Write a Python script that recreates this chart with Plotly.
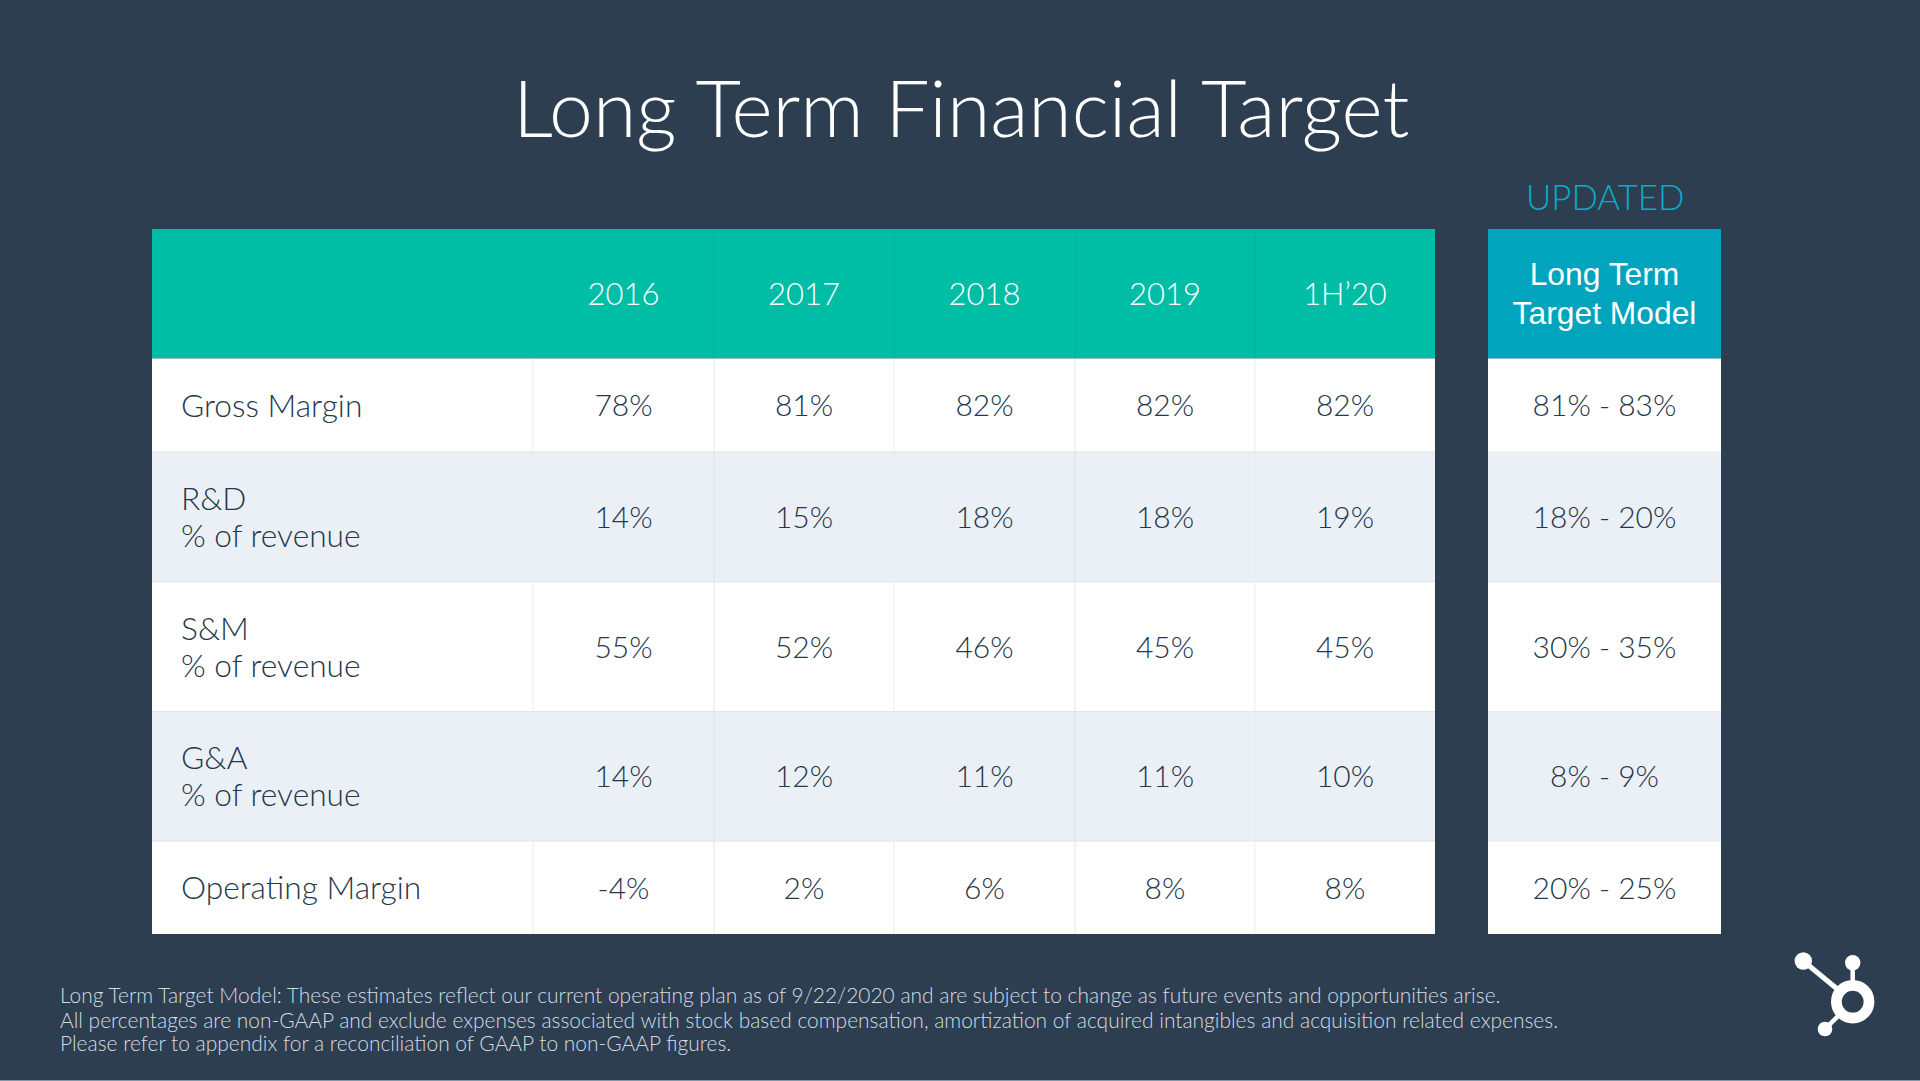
import plotly.graph_objects as go

# ---------- data ----------
title = "Long Term Financial Target"
badge = "UPDATED"
periods = ["2016", "2017", "2018", "2019", "1H’20"]
target_header = ["Long Term", "Target Model"]
metrics = [["Gross Margin"], ["R&D", "% of revenue"], ["S&M", "% of revenue"], ["G&A", "% of revenue"], ["Operating Margin"]]
gross_margin = ["78%", "81%", "82%", "82%", "82%"]
rnd = ["14%", "15%", "18%", "18%", "19%"]
snm = ["55%", "52%", "46%", "45%", "45%"]
gna = ["14%", "12%", "11%", "11%", "10%"]
op_margin = ["-4%", "2%", "6%", "8%", "8%"]
targets = ["81% - 83%", "18% - 20%", "30% - 35%", "8% - 9%", "20% - 25%"]
notes = ["Long Term Target Model: These estimates reflect our current operating plan as of 9/22/2020 and are subject to change as future events and opportunities arise.",
         "All percentages are non-GAAP and exclude expenses associated with stock based compensation, amortization of acquired intangibles and acquisition related expenses.",
         "Please refer to appendix for a reconciliation of GAAP to non-GAAP figures."]

rows = [gross_margin, rnd, snm, gna, op_margin]

# ---------- layout geometry ----------
W, H = 1920, 1081
col_edges = [152, 533, 714, 894, 1075, 1255, 1435]
tgt_edges = [1488, 1721]
row_edges = [229, 358.5, 452, 582, 711.5, 841, 934]
text_dy = 3.5          # optical offset of text in its cell
label_gap = 36.7       # distance between the two lines of a row label
head_gap = 39
note_ys = [994.5, 1019, 1042.5]

BG = "#2D3E50"; TEAL = "#00BDA5"; BLUE = "#00A4BD"; BAND = "#EAF0F6"; INK = "#24374B"
FONT = "Lato"

shapes = []
def rect(x0, x1, y0, y1, color):
    shapes.append(dict(type="rect", xref="x", yref="y", x0=x0, x1=x1, y0=y0, y1=y1,
                       fillcolor=color, line_width=0, layer="below"))
def seg(x0, y0, x1, y1, color, w=1):
    shapes.append(dict(type="line", xref="x", yref="y", x0=x0, x1=x1, y0=y0, y1=y1,
                       line=dict(color=color, width=w), layer="below"))
def disc(cx, cy, r, color, line=None, lw=0):
    shapes.append(dict(type="circle", xref="x", yref="y", x0=cx-r, x1=cx+r, y0=cy-r, y1=cy+r,
                       fillcolor=color, line=dict(color=line or color, width=lw), layer="below"))

# header bands
rect(col_edges[0], col_edges[-1], row_edges[0], row_edges[1], TEAL)
rect(tgt_edges[0], tgt_edges[1], row_edges[0], row_edges[1], BLUE)
# body rows
for i in range(len(metrics)):
    c = "#FFFFFF" if i % 2 == 0 else BAND
    rect(col_edges[0], col_edges[-1], row_edges[i+1], row_edges[i+2], c)
    rect(tgt_edges[0], tgt_edges[1], row_edges[i+1], row_edges[i+2], c)
# rules
for y in row_edges[2:-1]:
    seg(col_edges[0], y, col_edges[-1], y, "#DFE4EA")
    seg(tgt_edges[0], y, tgt_edges[1], y, "#E6EAEF")
for j, x in enumerate(col_edges[1:-1]):
    seg(x, row_edges[1], x, row_edges[-1], "#EAEDF0" if j % 2 == 0 else "#DFE3E8")
    if j > 0:
        seg(x, row_edges[0], x, row_edges[1], "#00B29B")
# bottom hairline of the slide
seg(0, 1080.5, W, 1080.5, "#8796A5", 1)

# logo
ring = (1852.7, 1001.7)
big = (1803.3, 961)
top = (1852.7, 962.7)
low = (1825, 1029)
seg(big[0], big[1], ring[0], ring[1], "white", 5)
seg(top[0], top[1], ring[0], ring[1], "white", 4.5)
seg(low[0], low[1], ring[0], ring[1], "white", 4.5)
disc(big[0], big[1], 8.7, "white")
disc(top[0], top[1], 7.7, "white")
disc(low[0], low[1], 7.3, "white")
disc(ring[0], ring[1], 16.3, BG, "white", 10.8)

fig = go.Figure()

centers_x = [(a + b) / 2 for a, b in zip(col_edges[1:], col_edges[2:])]
centers_y = [(a + b) / 2 + text_dy for a, b in zip(row_edges[1:], row_edges[2:])]
tgt_x = sum(tgt_edges) / 2
head_y = (row_edges[0] + row_edges[1]) / 2 + text_dy

# header text
fig.add_trace(go.Scatter(x=centers_x, y=[head_y]*5, text=periods, mode="text", textposition="middle center",
                         textfont=dict(family=FONT, size=31, color="white", weight=300), hoverinfo="skip"))
fig.add_trace(go.Scatter(x=[tgt_x]*2, y=[head_y - head_gap/2 - 0.6, head_y + head_gap/2 - 0.6], text=target_header,
                         mode="text", textposition="middle center",
                         textfont=dict(family="Liberation Sans", size=31.8, color="white"), hoverinfo="skip"))
# row labels
lab_y, lab_t = [], []
for cy, lines in zip(centers_y, metrics):
    for k, line in enumerate(lines):
        lab_y.append(cy + (k - (len(lines) - 1) / 2) * label_gap)
        lab_t.append(line)
fig.add_trace(go.Scatter(x=[col_edges[0] + 29]*len(lab_y), y=lab_y, text=lab_t, mode="text", textposition="middle right",
                         textfont=dict(family=FONT, size=31.7, color=INK, weight=300), hoverinfo="skip"))
# values
for j, cx in enumerate(centers_x):
    fig.add_trace(go.Scatter(x=[cx]*5, y=centers_y, text=[r[j] for r in rows], mode="text",
                             textposition="middle center",
                             textfont=dict(family=FONT, size=30, color=INK, weight=300), hoverinfo="skip"))
fig.add_trace(go.Scatter(x=[tgt_x]*5, y=centers_y, text=targets, mode="text", textposition="middle center",
                         textfont=dict(family=FONT, size=30, color=INK, weight=300), hoverinfo="skip"))

ann = [
    dict(x=961, y=106, text=title, showarrow=False, xanchor="center", yanchor="middle",
         font=dict(family=FONT, size=78.8, color="white", weight=300)),
    dict(x=tgt_x, y=196, text=badge, showarrow=False, xanchor="center", yanchor="middle",
         font=dict(family=FONT, size=34.8, color="#08ACC6", weight=300)),
]
for y, line in zip(note_ys, notes):
    ann.append(dict(x=58, y=y, text=line, showarrow=False, xanchor="left", yanchor="middle", align="left",
                    font=dict(family=FONT, size=20.95, color="#D3DCE6", weight=300)))
for a in ann:
    a.update(xref="x", yref="y")

fig.update_layout(
    width=W, height=H, margin=dict(l=0, r=0, t=0, b=0), showlegend=False,
    paper_bgcolor=BG, plot_bgcolor=BG, shapes=shapes, annotations=ann,
    xaxis=dict(range=[0, W], visible=False, fixedrange=True),
    yaxis=dict(range=[H, 0], visible=False, fixedrange=True),
)
fig.write_html("out.html", config=dict(displayModeBar=False),
               post_script="document.body.style.margin='0';document.documentElement.style.overflow='hidden';")
